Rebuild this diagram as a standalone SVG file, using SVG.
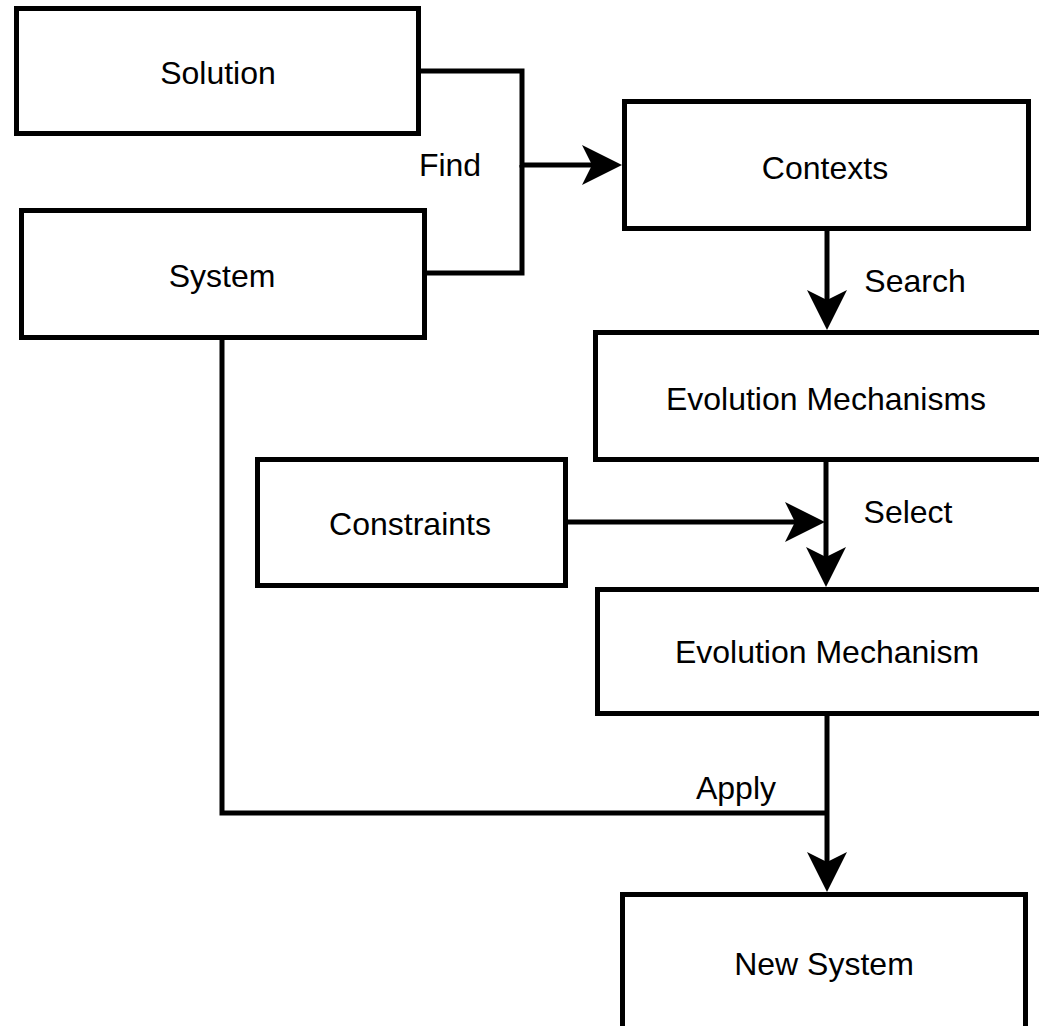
<svg xmlns="http://www.w3.org/2000/svg" width="1039" height="1026" viewBox="0 0 1039 1026">
<style>
.box{fill:#fff;stroke:#000;stroke-width:5}
.lbl{font-family:"Liberation Sans",Arial,sans-serif;font-size:32px;fill:#000;text-anchor:middle}
.edge{fill:none;stroke:#000;stroke-width:5}
</style>
<defs>
<marker id="arr" markerUnits="userSpaceOnUse" viewBox="-15 -25 50 50" markerWidth="50" markerHeight="50" refX="0" refY="0" orient="auto">
<path d="M30,0 L-10,-20 L0,0 L-10,20 Z" fill="#000"/>
</marker>
</defs>
<rect width="1039" height="1026" fill="#fff"/>
<g id="connectors">
<path class="edge" d="M421,71 H522 V165 H592" marker-end="url(#arr)"/>
<path class="edge" d="M427,273 H522 V165"/>
<path class="edge" d="M827,231 V300" marker-end="url(#arr)"/>
<path class="edge" d="M826,462 V557" marker-end="url(#arr)"/>
<path class="edge" d="M568,522 H795" marker-end="url(#arr)"/>
<path class="edge" d="M827,716 V862" marker-end="url(#arr)"/>
<path class="edge" d="M222,340 V813 H827"/>
<text class="lbl" x="450" y="176">Find</text>
<text class="lbl" x="915" y="292">Search</text>
<text class="lbl" x="908" y="523">Select</text>
<text class="lbl" x="736" y="799">Apply</text>
</g>
<g id="solution"><rect class="box" x="16.5" y="8.5" width="402" height="125"/><text class="lbl" x="218" y="84">Solution</text></g>
<g id="system"><rect class="box" x="21.5" y="210.5" width="403" height="127"/><text class="lbl" x="222" y="287">System</text></g>
<g id="contexts"><rect class="box" x="624.5" y="101.5" width="404" height="127"/><text class="lbl" x="825" y="179">Contexts</text></g>
<g id="evolution-mechanisms"><rect class="box" x="595.5" y="332.5" width="461" height="127"/><text class="lbl" x="826" y="410">Evolution Mechanisms</text></g>
<g id="constraints"><rect class="box" x="257.5" y="459.5" width="308" height="126"/><text class="lbl" x="410" y="535">Constraints</text></g>
<g id="evolution-mechanism"><rect class="box" x="597.5" y="589.5" width="459" height="124"/><text class="lbl" x="827" y="663">Evolution Mechanism</text></g>
<g id="new-system"><rect class="box" x="622.5" y="894.5" width="403" height="140"/><text class="lbl" x="824" y="975">New System</text></g>
</svg>
